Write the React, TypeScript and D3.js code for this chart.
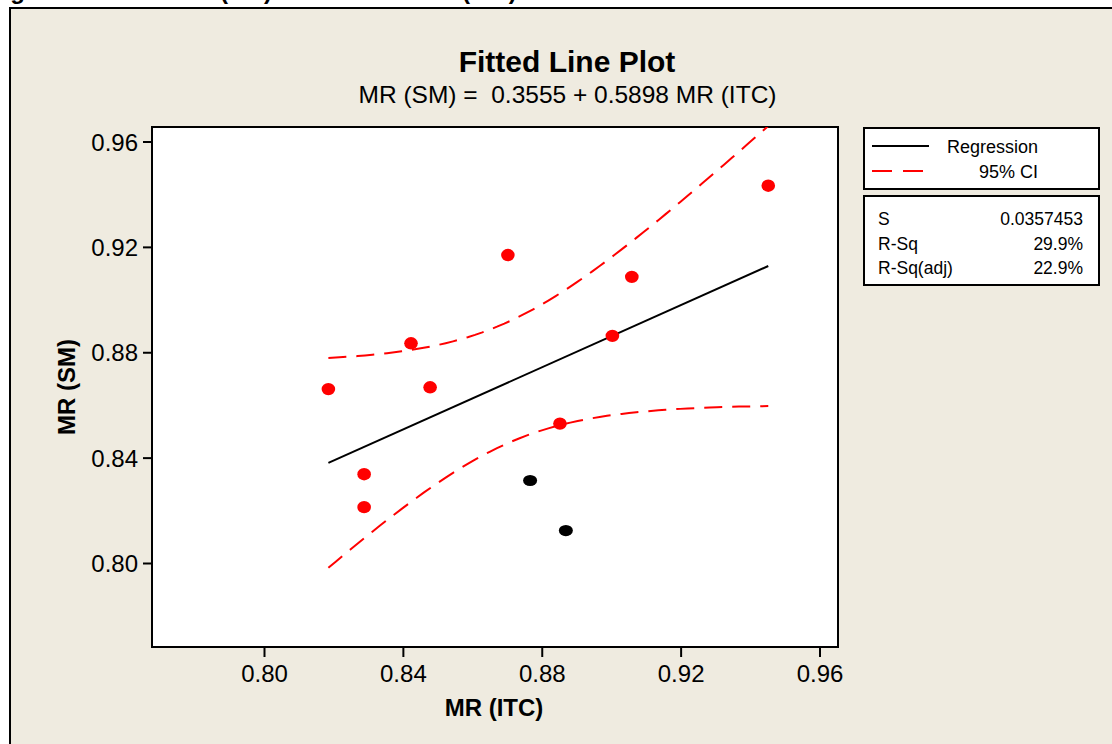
import React from "react";
import * as d3 from "d3";

// Observations: MR (ITC) on x, MR (SM) on y
const itcRed = [0.8184, 0.8287, 0.8287, 0.8422, 0.8477, 0.8701, 0.8851, 0.9002, 0.9058, 0.9451];
const smRed = [0.8662, 0.8339, 0.8214, 0.8836, 0.8669, 0.9171, 0.8531, 0.8864, 0.9088, 0.9434];
const itcBlack = [0.8765, 0.8868];
const smBlack = [0.8315, 0.8125];

// Fitted model and summary statistics
const intercept = 0.3555;
const slope = 0.5898;
const sValue = 0.0357453;
const tCrit = 2.228; // t(0.975, df = 10)

const xTicks = [0.8, 0.84, 0.88, 0.92, 0.96];
const yTicks = [0.8, 0.84, 0.88, 0.92, 0.96];

const legendLabels = ["Regression", "95% CI"];
const statLabels = ["S", "R-Sq", "R-Sq(adj)"];
const statValues = ["0.0357453", "29.9%", "22.9%"];

const FONT = "'Liberation Sans', Arial, Helvetica, sans-serif";

export default function App() {
  const W = 1112;
  const H = 744;
  const plot = { left: 152, top: 127, right: 838, bottom: 647 };

  const x = d3.scaleLinear().domain([0.8, 0.96]).range([264.5, 820]);
  const y = d3.scaleLinear().domain([0.8, 0.96]).range([563.5, 142]);

  const allX = [...itcRed, ...itcBlack];
  const n = allX.length;
  const xbar = d3.mean(allX) as number;
  const sxx = d3.sum(allX, (v) => (v - xbar) ** 2);
  const [xMin, xMax] = d3.extent(allX) as [number, number];

  const fit = (v: number) => intercept + slope * v;
  const half = (v: number) => tCrit * sValue * Math.sqrt(1 / n + (v - xbar) ** 2 / sxx);

  const grid = d3.range(0, 61).map((i) => xMin + ((xMax - xMin) * i) / 60);
  const line = d3
    .line<[number, number]>()
    .x((d) => x(d[0]))
    .y((d) => y(d[1]));

  const regPath = line([
    [xMin, fit(xMin)],
    [xMax, fit(xMax)],
  ]) as string;
  const upperPath = line(grid.map((v) => [v, fit(v) + half(v)] as [number, number])) as string;
  const lowerPath = line(grid.map((v) => [v, fit(v) - half(v)] as [number, number])) as string;

  const legendX = 864;
  const legendW = 235;

  return (
    <svg
      width={W}
      height={H}
      style={{ position: "absolute", left: 0, top: 0, display: "block", background: "#ffffff" }}
      fontFamily={FONT}
    >
      <defs>
        <clipPath id="plot-clip">
          <rect x={plot.left} y={plot.top} width={plot.right - plot.left} height={plot.bottom - plot.top} />
        </clipPath>
      </defs>

      {/* caption of the figure, running above the frame */}
      <g fontWeight="bold" fontSize={24} fill="#000">
        <text x={-11} y={-1}>Figure 4.8: MR</text>
        <text x={220} y={-1}>(SM)</text>
        <text x={282} y={-1}>versus MR</text>
        <text x={462} y={-1}>(ITC)</text>
      </g>

      {/* outer frame */}
      <rect x={10} y={8} width={W + 20} height={H + 20} fill="#EFEBE0" stroke="#000" strokeWidth={2} />

      {/* titles */}
      <text x={567} y={72} textAnchor="middle" fontSize={30} fontWeight="bold" fill="#000">
        Fitted Line Plot
      </text>
      <text x={567.5} y={103} textAnchor="middle" fontSize={24.5} fill="#000" style={{ whiteSpace: "pre" }}>
        {`MR (SM) =  ${intercept.toFixed(4)} + ${slope.toFixed(4)} MR (ITC)`}
      </text>

      {/* plot area */}
      <rect
        x={plot.left}
        y={plot.top}
        width={plot.right - plot.left}
        height={plot.bottom - plot.top}
        fill="#ffffff"
        stroke="#000"
        strokeWidth={2}
      />

      {/* y axis */}
      {yTicks.map((t) => (
        <g key={`y${t}`}>
          <line x1={plot.left - 9} x2={plot.left} y1={y(t)} y2={y(t)} stroke="#000" strokeWidth={2} />
          <text x={138} y={y(t) + 8.5} textAnchor="end" fontSize={24} fill="#000">
            {d3.format(".2f")(t)}
          </text>
        </g>
      ))}

      {/* x axis */}
      {xTicks.map((t) => (
        <g key={`x${t}`}>
          <line x1={x(t)} x2={x(t)} y1={plot.bottom} y2={plot.bottom + 10} stroke="#000" strokeWidth={2} />
          <text x={x(t)} y={682} textAnchor="middle" fontSize={24} fill="#000">
            {d3.format(".2f")(t)}
          </text>
        </g>
      ))}

      <text x={494} y={716} textAnchor="middle" fontSize={24} fontWeight="bold" fill="#000">
        MR (ITC)
      </text>
      <text
        transform={`translate(75, ${(plot.top + plot.bottom) / 2}) rotate(-90)`}
        textAnchor="middle"
        fontSize={24}
        fontWeight="bold"
        fill="#000"
      >
        MR (SM)
      </text>

      {/* fitted line and confidence band */}
      <g clipPath="url(#plot-clip)" fill="none">
        <path d={upperPath} stroke="#FF0000" strokeWidth={2} strokeDasharray="18,10" />
        <path d={lowerPath} stroke="#FF0000" strokeWidth={2} strokeDasharray="18,10" />
        <path d={regPath} stroke="#000" strokeWidth={2} />
      </g>

      {/* observations */}
      <g>
        {itcRed.map((v, i) => (
          <ellipse key={`r${i}`} cx={x(v)} cy={y(smRed[i])} rx={6.8} ry={6.2} fill="#FF0000" />
        ))}
        {itcBlack.map((v, i) => (
          <ellipse key={`b${i}`} cx={x(v)} cy={y(smBlack[i])} rx={7} ry={5.6} fill="#000" />
        ))}
      </g>

      {/* legend */}
      <rect x={legendX} y={128} width={legendW} height={61} fill="#ffffff" stroke="#000" strokeWidth={2} />
      <line x1={872} x2={929} y1={146} y2={146} stroke="#000" strokeWidth={2} />
      <line x1={872} x2={923} y1={171} y2={171} stroke="#FF0000" strokeWidth={2} strokeDasharray="20,11" />
      <text x={1038} y={153} textAnchor="end" fontSize={18} fill="#000">
        {legendLabels[0]}
      </text>
      <text x={1038} y={178} textAnchor="end" fontSize={18} fill="#000">
        {legendLabels[1]}
      </text>

      {/* summary statistics */}
      <rect x={legendX} y={196} width={legendW} height={89} fill="#ffffff" stroke="#000" strokeWidth={2} />
      {statLabels.map((lab, i) => (
        <g key={lab} fontSize={17.5} fill="#000">
          <text x={878} y={225 + i * 24.5}>
            {lab}
          </text>
          <text x={1083} y={225 + i * 24.5} textAnchor="end">
            {statValues[i]}
          </text>
        </g>
      ))}
    </svg>
  );
}
